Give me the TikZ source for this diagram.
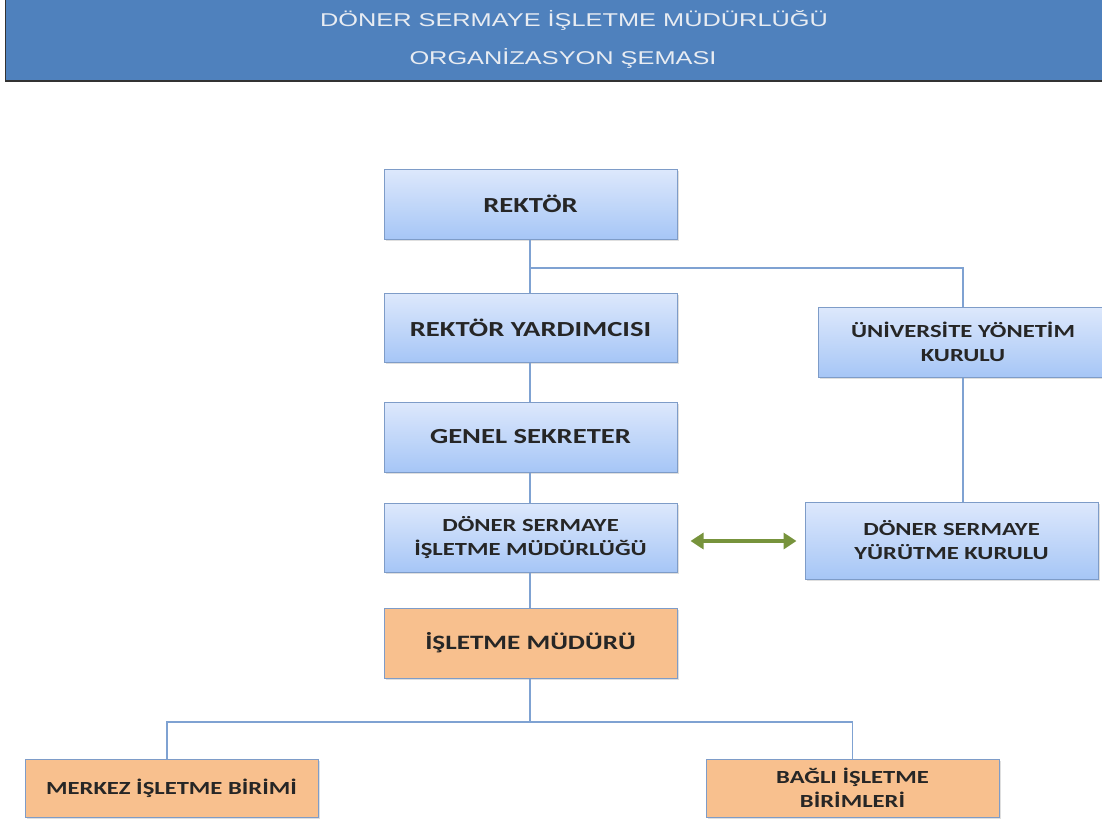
\documentclass[tikz,border=0pt]{standalone}
\usepackage{fontspec}
\usetikzlibrary{arrows.meta,shadows}
\newfontfamily\boxfont[FakeStretch=1.33]{Carlito}
\newfontfamily\headfont[FakeStretch=1.37]{Liberation Sans}
\definecolor{headblue}{HTML}{4F81BD}
\definecolor{headtext}{HTML}{E8ECF2}
\definecolor{boxtop}{HTML}{DDE8FC}
\definecolor{boxbot}{HTML}{A6C6F6}
\definecolor{boxline}{HTML}{7E9CC8}
\definecolor{orangefill}{HTML}{F8C08E}
\definecolor{linkblue}{HTML}{7FA2D2}
\definecolor{arrowgreen}{HTML}{77933C}
\tikzset{
  orgbox/.style={draw=boxline, line width=1pt, minimum width=293pt, minimum height=70pt,
    inner sep=0pt, align=center, font=\boxfont\bfseries\fontsize{18.5}{24}\selectfont,
    text=black!85, drop shadow={opacity=0.25, shadow xshift=2pt, shadow yshift=-2pt}},
  bigtext/.style={font=\boxfont\bfseries\fontsize{21.5}{26}\selectfont},
  midtext/.style={font=\boxfont\bfseries\fontsize{20.4}{24}\selectfont},
  bluebox/.style={orgbox, top color=boxtop, bottom color=boxbot},
  orangebox/.style={orgbox, fill=orangefill},
  link/.style={draw=linkblue, line width=1.5pt},
  twoway/.style={draw=arrowgreen, line width=4.5pt,
    {Triangle[width=16pt,length=13pt]}-{Triangle[width=16pt,length=13pt]}},
  headline/.style={font=\headfont\fontsize{18.5}{20}\selectfont, text=headtext, inner sep=0pt}
}
\begin{document}
\begin{tikzpicture}[x=1pt,y=-1pt]
\useasboundingbox (0,0) rectangle (1102,822);
\clip (0,0) rectangle (1102,822);
% header
\fill[headblue] (5,-2) rectangle (1110,81);
\draw[black!80, line width=1.2pt] (5.5,-2) -- (5.5,81) -- (1110,81);
\node[headline] (t1) at (574,20) {DÖNER SERMAYE İŞLETME MÜDÜRLÜĞÜ};
\node[headline] (t2) at (563,58) {ORGANİZASYON ŞEMASI};
% boxes
\node[bluebox, bigtext] (rek) at (530.5,204) {REKTÖR};
\node[bluebox, bigtext, minimum height=69pt] (ry) at (530.5,327.5) {REKTÖR YARDIMCISI};
\node[bluebox, bigtext] (gs) at (530.5,437) {GENEL SEKRETER};
\node[bluebox, minimum height=69pt] (dsim) at (530.5,537.5) {DÖNER SERMAYE\\İŞLETME MÜDÜRLÜĞÜ};
\node[orangebox, midtext] (im) at (530.5,643) {İŞLETME MÜDÜRÜ};
\node[bluebox, minimum width=290pt] (uyk) at (963,342) {ÜNİVERSİTE YÖNETİM\\KURULU};
\node[bluebox, minimum height=77pt] (dsyk) at (951.5,540.5) {DÖNER SERMAYE\\YÜRÜTME KURULU};
\node[orangebox, minimum height=58pt] (mb) at (171.5,788) {MERKEZ İŞLETME BİRİMİ};
\node[orangebox, minimum height=58pt] (bb) at (852.5,788) {BAĞLI İŞLETME\\BİRİMLERİ};
% connectors
\coordinate (br1) at (530,268);
\coordinate (br2) at (530,722);
\draw[link] ([xshift=-0.5pt]rek.south) -- ([xshift=-0.5pt]ry.north);
\draw[link] (br1) -| (uyk.north);
\draw[link] (uyk.south) -- (uyk.south |- dsyk.north);
\draw[link] ([xshift=-0.5pt]ry.south) -- ([xshift=-0.5pt]gs.north);
\draw[link] ([xshift=-0.5pt]gs.south) -- ([xshift=-0.5pt]dsim.north);
\draw[link] ([xshift=-0.5pt]dsim.south) -- ([xshift=-0.5pt]im.north);
\draw[link] ([xshift=-0.5pt]im.south) -- (br2);
\draw[link] (br2) -| ([xshift=-4.5pt]mb.north);
\draw[link] (br2) -| (bb.north);
% two-way arrow
\draw[twoway] ([xshift=13pt,yshift=-3.5pt]dsim.east) -- ([xshift=-8pt,yshift=-3.5pt]dsim.east -| dsyk.west);
\end{tikzpicture}
\end{document}
